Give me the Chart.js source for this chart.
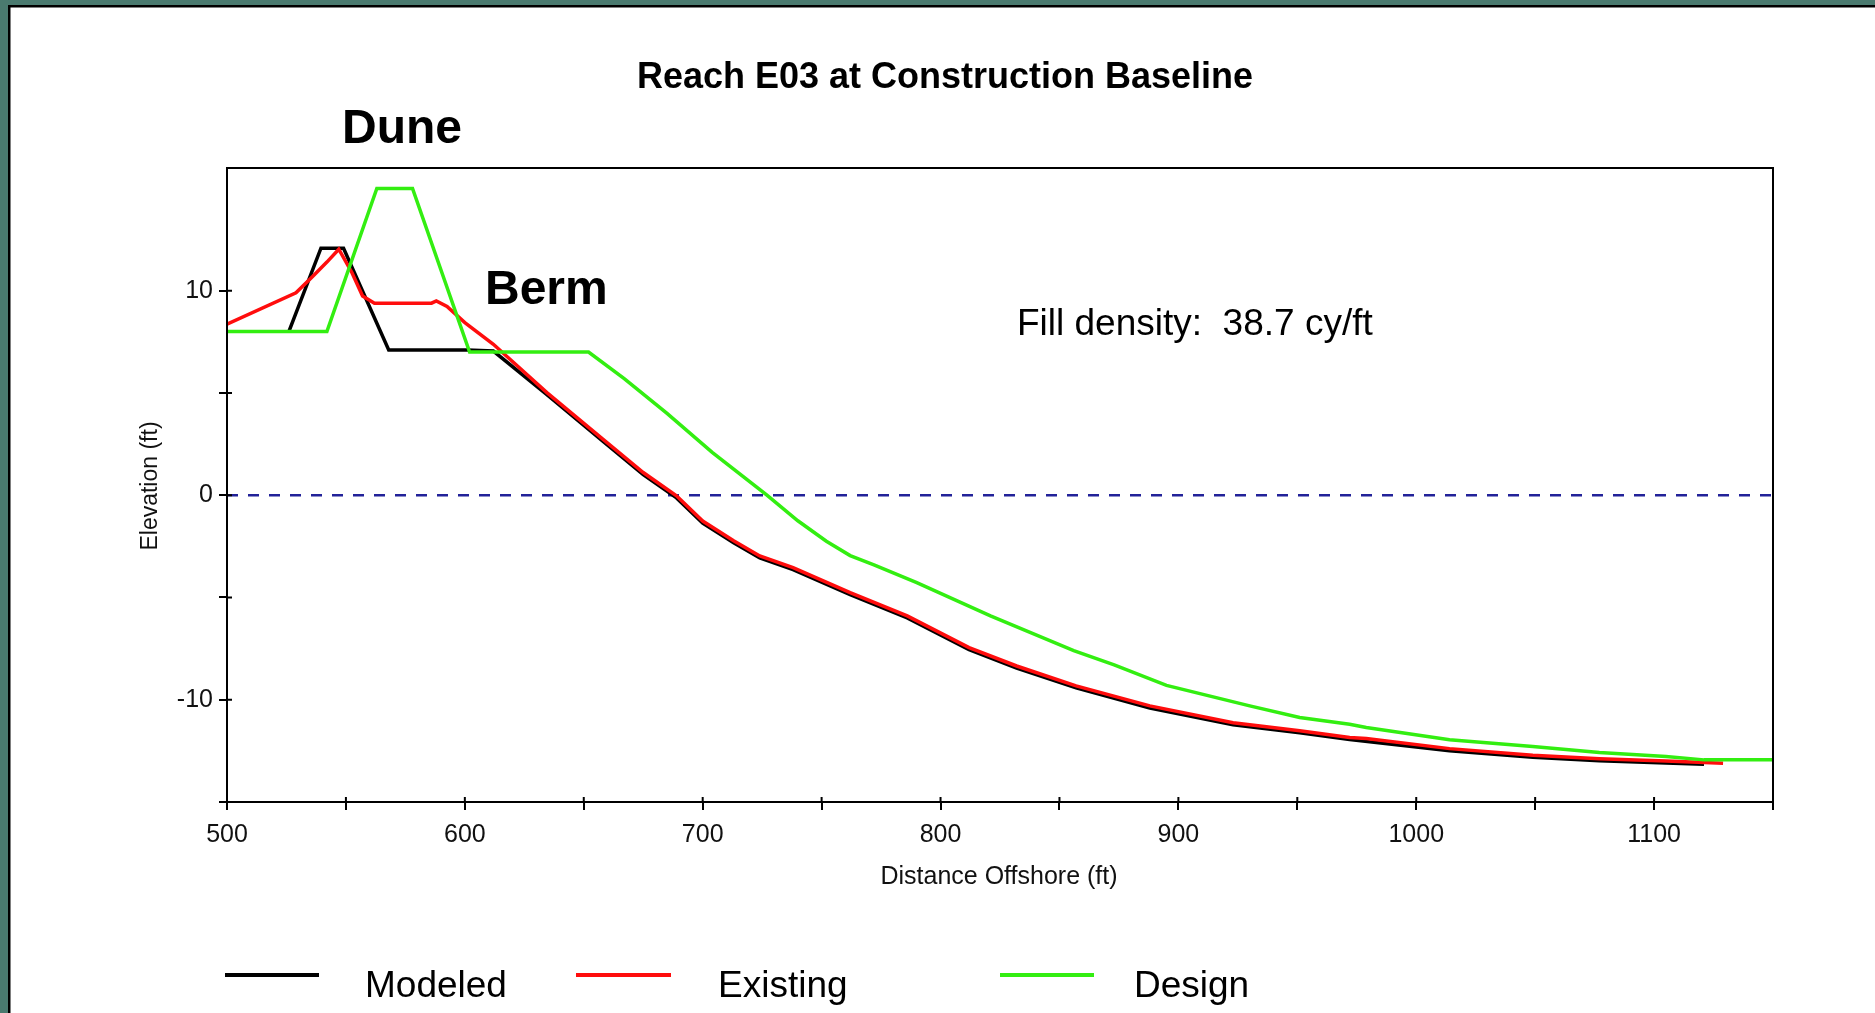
<!DOCTYPE html>
<html>
<head>
<meta charset="utf-8">
<title>Reach E03 at Construction Baseline</title>
<script src="https://cdn.jsdelivr.net/npm/chart.js@4.4.1/dist/chart.umd.min.js"></script>
<style>
  html, body { margin: 0; padding: 0; background: #fff; overflow: hidden; }
  #wrap { position: absolute; left: 0; top: 0; width: 1875px; height: 1013px; }
</style>
</head>
<body>
<div id="wrap"><canvas id="profile"></canvas></div>
<script>
// profile data (distance offshore ft, elevation ft)
const modeledX = [526, 539.5, 549, 568, 601, 612, 634.5, 658, 675, 689, 700, 713, 724, 738, 762, 786, 812, 832, 857, 888, 923, 951, 972, 1014, 1049, 1077, 1105, 1121];
const modeledY = [8, 12.08, 12.08, 7.1, 7.1, 7.05, 4.92, 2.64, 1.01, -0.13, -1.36, -2.33, -3.07, -3.64, -4.86, -6.0, -7.55, -8.45, -9.42, -10.4, -11.22, -11.62, -11.95, -12.49, -12.81, -12.98, -13.09, -13.15];

const existingX = [500, 529, 536, 542, 547, 552.5, 557, 562, 586, 588, 592.5, 600, 612, 634.5, 658, 675, 689, 700, 713, 724, 738, 762, 786, 812, 832, 857, 888, 923, 951, 972, 979, 1014, 1049, 1077, 1105, 1129];
const existingY = [8.36, 9.9, 10.7, 11.4, 12.03, 10.89, 9.74, 9.39, 9.39, 9.5, 9.23, 8.44, 7.38, 5.02, 2.74, 1.11, -0.03, -1.26, -2.23, -2.97, -3.54, -4.76, -5.9, -7.45, -8.35, -9.32, -10.3, -11.12, -11.52, -11.85, -11.9, -12.39, -12.71, -12.88, -12.99, -13.1];

const designX = [500, 542, 563, 578, 602, 652, 667, 685, 704, 727, 740, 752, 762, 772, 790, 821, 856, 873, 895, 930, 951, 972, 979, 1014, 1049, 1077, 1105, 1121, 1150];
const designY = [8, 8, 15, 15, 7, 7, 5.7, 4.0, 2.1, 0, -1.25, -2.25, -2.95, -3.4, -4.27, -5.9, -7.6, -8.3, -9.3, -10.3, -10.87, -11.2, -11.36, -11.96, -12.29, -12.58, -12.78, -12.94, -12.94];

const waterX = [500, 1150];
const waterY = [0, 0];

const xLabels = [500, 600, 700, 800, 900, 1000, 1100];
const yLabels = [-10, 0, 10];

const toPoints = (xs, ys) => xs.map((x, i) => ({ x: x, y: ys[i] }));

const tickFont = { family: "'Liberation Sans', Arial, sans-serif", size: 25 };

const decorations = {
  id: "decorations",
  beforeDraw(chart) {
    const ctx = chart.ctx;
    ctx.save();
    ctx.fillStyle = "#fff";
    ctx.fillRect(0, 0, chart.width, chart.height);
    // slide frame
    ctx.fillStyle = "#4a7a6f";
    ctx.fillRect(0, 0, 8, chart.height);
    ctx.fillRect(0, 0, chart.width, 5);
    ctx.fillStyle = "#000";
    ctx.fillRect(8, 5, 2.5, chart.height);
    ctx.fillRect(8, 5, chart.width, 2.5);
    ctx.restore();
  },
  afterDraw(chart) {
    const ctx = chart.ctx;
    const area = chart.chartArea;
    const xs = chart.scales.x;
    const ys = chart.scales.y;
    ctx.save();

    // plot frame
    ctx.strokeStyle = "#000";
    ctx.lineWidth = 2;
    ctx.strokeRect(area.left, area.top, area.right - area.left, area.bottom - area.top);

    // tick stubs inside the frame
    ctx.beginPath();
    xs.ticks.forEach((t) => {
      const px = xs.getPixelForValue(t.value);
      ctx.moveTo(px, area.bottom);
      ctx.lineTo(px, area.bottom - 5);
    });
    ys.ticks.forEach((t) => {
      const py = ys.getPixelForValue(t.value);
      ctx.moveTo(area.left, py);
      ctx.lineTo(area.left + 5, py);
    });
    ctx.stroke();

    ctx.fillStyle = "#000";
    ctx.textBaseline = "alphabetic";

    // title
    ctx.font = "bold 36px 'Liberation Sans', Arial, sans-serif";
    ctx.textAlign = "center";
    ctx.fillText("Reach E03 at Construction Baseline", 945, 88, 622);

    // annotations
    ctx.textAlign = "left";
    ctx.font = "bold 48px 'Liberation Sans', Arial, sans-serif";
    ctx.fillText("Dune", 342, 143);
    ctx.fillText("Berm", 485, 304);
    ctx.font = "37px 'Liberation Sans', Arial, sans-serif";
    ctx.fillText("Fill density:  38.7 cy/ft", 1017, 335);

    // axis titles
    ctx.font = "25px 'Liberation Sans', Arial, sans-serif";
    ctx.fillStyle = "#111";
    ctx.textAlign = "center";
    ctx.fillText("Distance Offshore (ft)", 999, 884, 246);
    ctx.save();
    ctx.translate(157, 486);
    ctx.rotate(-Math.PI / 2);
    ctx.font = "23px 'Liberation Sans', Arial, sans-serif";
    ctx.fillText("Elevation (ft)", 0, 0);
    ctx.restore();

    // legend
    const legend = [
      { i: 0, x1: 225, x2: 319, tx: 365 },
      { i: 1, x1: 576, x2: 671, tx: 718 },
      { i: 2, x1: 1000, x2: 1094, tx: 1134 },
    ];
    ctx.font = "37px 'Liberation Sans', Arial, sans-serif";
    ctx.textAlign = "left";
    legend.forEach((l) => {
      const ds = chart.data.datasets[l.i];
      ctx.strokeStyle = ds.borderColor;
      ctx.lineWidth = 4;
      ctx.beginPath();
      ctx.moveTo(l.x1, 975);
      ctx.lineTo(l.x2, 975);
      ctx.stroke();
      ctx.fillStyle = "#000";
      ctx.fillText(ds.label, l.tx, 997);
    });

    ctx.restore();
  },
};

new Chart(document.getElementById("profile"), {
  type: "line",
  data: {
    datasets: [
      { label: "Modeled", data: toPoints(modeledX, modeledY), borderColor: "#000000", order: 2 },
      { label: "Existing", data: toPoints(existingX, existingY), borderColor: "#ff0d0d", order: 1 },
      { label: "Design", data: toPoints(designX, designY), borderColor: "#33ee11", order: 0 },
      { label: "MSL", data: toPoints(waterX, waterY), borderColor: "#222299", borderWidth: 2.5, borderDash: [11, 10], order: 3 },
    ],
  },
  options: {
    responsive: true,
    maintainAspectRatio: false,
    animation: false,
    events: [],
    layout: { padding: { left: 127, right: 102, top: 168, bottom: 151 } },
    elements: {
      line: { borderWidth: 3.5, tension: 0, fill: false },
      point: { radius: 0 },
    },
    plugins: { legend: { display: false }, tooltip: { enabled: false } },
    scales: {
      x: {
        type: "linear",
        min: 500,
        max: 1150,
        afterFit: (s) => { s.height = 60; },
        grid: { drawOnChartArea: false, color: "#000", lineWidth: 2, tickLength: 8 },
        border: { color: "#000", width: 2 },
        ticks: {
          stepSize: 50,
          autoSkip: false,
          maxRotation: 0,
          padding: 10,
          color: "#111",
          font: tickFont,
          callback: (v) => (xLabels.includes(v) ? String(v) : ""),
        },
      },
      y: {
        type: "linear",
        min: -15,
        max: 16,
        afterFit: (s) => { s.width = 100; },
        afterBuildTicks: (s) => { s.ticks = s.ticks.filter((t) => t.value % 5 === 0); },
        grid: { drawOnChartArea: false, color: "#000", lineWidth: 2, tickLength: 8 },
        border: { color: "#000", width: 2 },
        ticks: {
          stepSize: 5,
          padding: 6,
          color: "#111",
          font: tickFont,
          callback: (v) => (yLabels.includes(v) ? String(v) : ""),
        },
      },
    },
  },
  plugins: [decorations],
});
</script>
</body>
</html>
